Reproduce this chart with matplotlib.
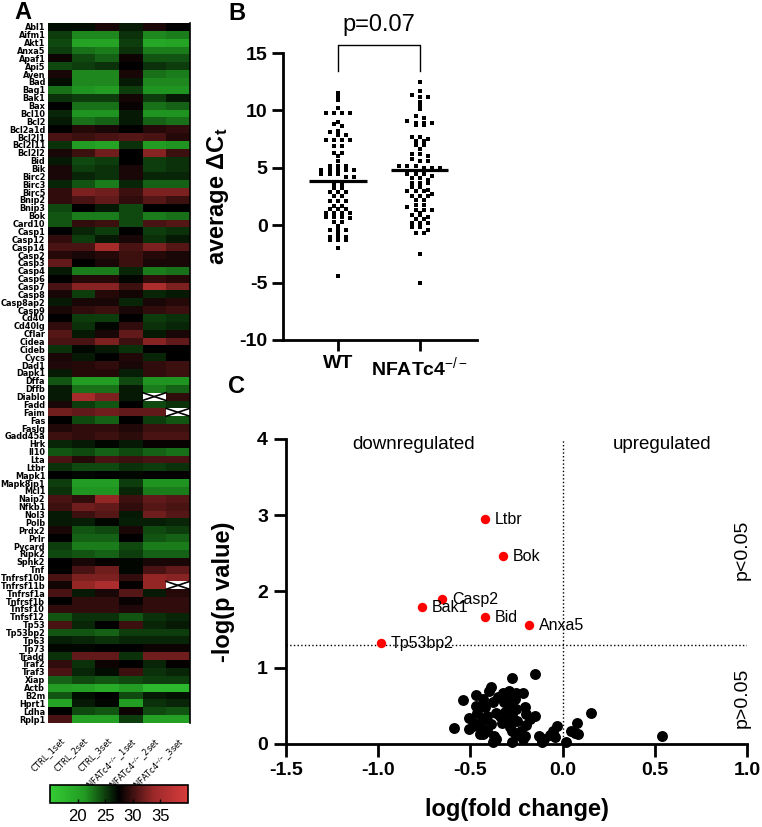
import numpy as np
import matplotlib
matplotlib.use("Agg")
import matplotlib.pyplot as plt
from matplotlib.colors import LinearSegmentedColormap

plt.rcParams['font.family'] = ['Liberation Sans', 'DejaVu Sans']
plt.rcParams['mathtext.fontset'] = 'custom'
plt.rcParams['mathtext.rm'] = 'Liberation Sans'
plt.rcParams['mathtext.it'] = 'Liberation Sans:italic'
plt.rcParams['mathtext.bf'] = 'Liberation Sans:bold'
plt.rcParams['axes.unicode_minus'] = False

# ---------------- A: heatmap (Ct values) ----------------
genes = ['Abl1', 'Aifm1', 'Akt1', 'Anxa5', 'Apaf1', 'Api5', 'Aven', 'Bad', 'Bag1', 'Bak1',
         'Bax', 'Bcl10', 'Bcl2', 'Bcl2a1d', 'Bcl2l1', 'Bcl2l11', 'Bcl2l2', 'Bid', 'Bik', 'Birc2',
         'Birc3', 'Birc5', 'Bnip2', 'Bnip3', 'Bok', 'Card10', 'Casp1', 'Casp12', 'Casp14', 'Casp2',
         'Casp3', 'Casp4', 'Casp6', 'Casp7', 'Casp8', 'Casp8ap2', 'Casp9', 'Cd40', 'Cd40lg', 'Cflar',
         'Cidea', 'Cideb', 'Cycs', 'Dad1', 'Dapk1', 'Dffa', 'Dffb', 'Diablo', 'Fadd', 'Faim',
         'Fas', 'Faslg', 'Gadd45a', 'Hrk', 'Il10', 'Lta', 'Ltbr', 'Mapk1', 'Mapk8ip1', 'Mcl1',
         'Naip2', 'Nfkb1', 'Nol3', 'Polb', 'Prdx2', 'Prlr', 'Pycard', 'Ripk2', 'Sphk2', 'Tnf',
         'Tnfrsf10b', 'Tnfrsf11b', 'Tnfrsf1a', 'Tnfrsf1b', 'Tnfsf10', 'Tnfsf12', 'Tp53', 'Tp53bp2', 'Tp63', 'Tp73',
         'Tradd', 'Traf2', 'Traf3', 'Xiap', 'Actb', 'B2m', 'Hprt1', 'Ldha', 'Rplp1']

samples = ['CTRL_1set', 'CTRL_2set', 'CTRL_3set',
           'NFATc4$^{-/-}$_1set', 'NFATc4$^{-/-}$_2set', 'NFATc4$^{-/-}$_3set']

nan = np.nan
ctrl_1set = [27, 25, 24.5, 25, 28, 24.5, 28.5, 27, 23, 25.5,
             27.5, 26, 26.5, 27.5, 30.5, 25.5, 28.5, 26.5, 28.5, 28.5,
             26, 29.5, 29.5, 24.5, 24, 24, 27.5, 29.5, 30.5, 29,
             31.5, 26.5, 27.5, 30.5, 28.5, 26.5, 28.5, 27.5, 29.5, 31,
             30.5, 25.5, 28.5, 28.8, 26.5, 24, 26.5, 26.5, 28.5, 32,
             27.5, 28.8, 30, 26, 24, 30.5, 25.5, 27.5, 25, 25.5,
             30.5, 30, 26.5, 26.5, 28.5, 27.5, 25, 24.5, 27.5, 27.5,
             30.5, 28.3, 30.5, 27.5, 29.5, 24, 30.5, 24, 26.3, 27.3,
             25.5, 29.5, 30.5, 23.5, 21, 24, 20, 27.5, 30.5]
ctrl_2set = [27, 22, 20, 23, 24.5, 25, 22, 22, 21.5, 25,
             23, 21.5, 23, 29, 30, 21, 30, 24.5, 25, 26,
             24, 32.5, 30.5, 27.5, 22.5, 29.5, 26, 25, 30.5, 28.5,
             27.5, 22.5, 29, 33, 25, 28.5, 29.5, 25, 25.5, 26.5,
             30.5, 27.2, 26.5, 29, 29, 21, 23, 35, 25, 31.5,
             24.5, 29.5, 29.5, 26.5, 24.5, 29, 24.5, 27.3, 21, 21.5,
             29.5, 32, 30, 26.3, 24, 23.5, 22.5, 24, 28.5, 30.5,
             32.5, 33.5, 26.5, 29.5, 29.5, 25.5, 26, 24, 26, 27.3,
             31.5, 25.5, 26, 24.5, 20.5, 27, 26.5, 24.5, 20.5]
ctrl_3set = [28.5, 22, 20, 22.5, 23.5, 25.5, 22, 22, 21, 25,
             23, 21.5, 23.5, 28.5, 30.5, 20, 32, 25, 25.5, 25.5,
             22.5, 32, 31.5, 26.5, 22.5, 30, 25, 26.5, 35, 29,
             28.5, 22.5, 29, 33, 29, 28.5, 30, 25, 27.3, 28.5,
             32.5, 26.5, 27.5, 29.5, 29, 21, 23, 32.5, 24, 32,
             23.5, 29.5, 30, 27.3, 23.5, 30.5, 24.5, 27.5, 21, 21.5,
             33.5, 31.5, 31, 27.3, 24.5, 23.5, 22.5, 23.5, 27.8, 32,
             32.5, 35.5, 28.5, 29.5, 29.5, 25.5, 27.5, 23.5, 25.5, 27.5,
             31.5, 28, 27, 24, 19, 27.5, 27.3, 24, 20.5]
ko_1set = [26.5, 25.5, 25, 25.5, 28, 27.5, 28.5, 26.5, 25, 28.3,
           27.8, 26.5, 26.5, 27.5, 31, 25.5, 27.5, 27.5, 28.5, 28.5,
           26, 30, 29.5, 24.5, 24.5, 24.5, 27.5, 28.5, 30.5, 30,
           30, 26, 27.3, 30, 28.3, 26, 28.5, 27.5, 29.5, 31.5,
           30, 25.5, 28.8, 28.5, 26.3, 24.5, 26.5, 26.5, 27.5, 31.5,
           27.5, 28.8, 29.3, 26.5, 24.5, 30, 25.5, 27.3, 25, 26,
           30, 29.5, 26.5, 26.3, 28.5, 27.5, 24.5, 25, 27.3, 27.3,
           29.5, 27.7, 31, 27.8, 28.8, 24, 30, 25, 26, 27.5,
           25.5, 27.5, 30, 24.5, 21, 24.5, 21, 28, 25]
ko_2set = [28.5, 22, 19.5, 22.5, 24, 25.5, 23, 22, 21.5, 25,
           23, 21.5, 23.5, 29, 30.5, 21, 33, 25, 25, 26,
           23.5, 32.5, 31, 27.5, 22.5, 30.5, 25, 25.5, 32.5, 29,
           28.5, 22.5, 29.5, 35.5, 26, 28.5, 29.5, 25, 25.5, 26.5,
           33, 27.5, 26, 29.5, 29.5, 21.5, 22.5, nan, 24.5, 31.5,
           25, 30, 30.5, 27.8, 23.5, 30.5, 25, 27.7, 21.5, 22.5,
           31.5, 31, 32, 26.3, 24.5, 24, 22.5, 23.5, 28.5, 30.5,
           33.5, 33.5, 26.5, 29.5, 29.5, 25.5, 26, 25, 26, 28,
           32, 26, 25.5, 25, 17.5, 26.5, 25.5, 24.5, 20.5]
ko_3set = [27.5, 22.5, 20, 22.5, 24, 25, 22.5, 22, 21.5, 26.5,
           23.5, 21.5, 23, 29.5, 29, 21.5, 30, 25.5, 25.5, 26,
           23.5, 32.5, 30, 27.5, 23, 31, 25.5, 26.5, 31, 28.5,
           28.5, 23, 29, 32.5, 26.5, 29, 30, 25.5, 26, 28.5,
           31.5, 27.5, 27.5, 30, 30, 21.5, 23.5, 29.5, 25.5, nan,
           24, 30, 30.5, 27.8, 23, 30.5, 25.5, 27.7, 21.5, 22.5,
           31, 30.5, 31, 26, 25, 23.5, 22.5, 23.5, 28.5, 31.5,
           33, nan, 29, 29.5, 29.5, 26, 26.5, 25, 26, 28,
           32, 27.7, 26, 25, 17.5, 26.8, 26, 24, 20.5]

# ---------------- B: average delta Ct ----------------
groups = ['WT', 'NFATc4$^{-/-}$']
wt_dct = [11.5, 11.2, 10.9, 10.2, 9.8, 9.8, 9.8, 9.8, 9.0, 8.8, 8.6, 8.2, 8.1, 7.9, 7.9,
          7.4, 7.4, 7.4, 7.4, 6.9, 6.9, 6.3, 6.3, 6.0, 5.6, 5.2, 5.2, 5.2,
          4.8, 4.8, 4.8, 4.8, 4.8, 4.5, 4.5, 4.5, 4.2, 4.2, 3.5, 3.5, 3.2, 3.2,
          2.85, 2.85, 2.85, 2.5, 2.5, 2.1, 2.1, 2.1, 1.7, 1.7, 1.4, 1.4, 1.4,
          1.05, 1.05, 1.05, 1.05, 0.7, 0.7, 0.7, 0.6, 0.3, 0.3, -0.06,
          -0.4, -0.4, -0.4, -0.7, -1.05, -1.05, -1.05, -1.3, -1.3, -1.3, -2.0, -4.4]
nf_dct = [12.5, 11.7, 11.3, 11.2, 11.2, 10.7, 10.4, 10.1, 9.5, 9.3, 9.1, 8.9, 8.9, 8.9, 8.7, 8.7,
          7.7, 7.7, 7.5, 7.3, 7.3, 6.95, 6.95, 6.6, 6.2, 6.2, 6.0, 5.8, 5.6, 5.6, 5.2, 5.2, 5.2,
          4.95, 4.95, 4.95, 4.5, 4.5, 4.5, 4.3, 4.1, 4.1, 3.9, 3.65, 3.65, 3.65, 3.3, 3.3, 3.1,
          2.95, 2.95, 2.95, 2.7, 2.5, 2.5, 2.5, 2.2, 2.2, 1.8, 1.8, 1.55, 1.35, 1.35, 1.35, 1.1,
          0.9, 0.9, 0.7, 0.5, 0.5, 0.17, 0.17, 0.17, -0.2, -0.2, -0.45, -0.7, -0.7, -2.5, -5.0]
mean_dct = [3.85, 4.8]
p_value_b = 'p=0.07'

# ---------------- C: volcano ----------------
sig_genes = ['Ltbr', 'Bok', 'Casp2', 'Bak1', 'Bid', 'Anxa5', 'Tp53bp2']
fc_sig = [-0.423, -0.322, -0.652, -0.763, -0.423, -0.18, -0.986]
logp_sig = [2.95, 2.46, 1.90, 1.79, 1.66, 1.56, 1.32]

fc_ns = [-0.148, -0.272, -0.386, -0.40, -0.215, -0.293, -0.322, -0.47, -0.54, -0.43,
         -0.35, -0.30, -0.26, -0.38, -0.32, -0.285, -0.42, -0.206, -0.254, -0.31,
         -0.464, -0.36, -0.196, -0.148, 0.153, -0.507, -0.43, -0.293, -0.245, -0.478,
         -0.39, -0.33, -0.196, 0.076, -0.031, -0.588, -0.51, -0.44, -0.41, -0.285,
         -0.225, -0.05, 0.047, 0.066, 0.085, -0.43, -0.37, -0.254, -0.206, -0.128,
         -0.07, 0.538, -0.36, -0.10, -0.38, -0.274, -0.11, 0.017, -0.254, -0.468,
         -0.342, -0.274, -0.41, -0.177, -0.487, -0.274, -0.215, -0.04, -0.448]
logp_ns = [0.92, 0.86, 0.75, 0.69, 0.67, 0.70, 0.67, 0.64, 0.575, 0.59,
           0.61, 0.61, 0.59, 0.545, 0.545, 0.52, 0.49, 0.48, 0.46, 0.42,
           0.405, 0.40, 0.39, 0.37, 0.40, 0.335, 0.33, 0.33, 0.305, 0.28,
           0.26, 0.28, 0.25, 0.275, 0.23, 0.205, 0.196, 0.22, 0.174, 0.22,
           0.174, 0.174, 0.174, 0.15, 0.13, 0.13, 0.11, 0.12, 0.11, 0.11,
           0.12, 0.11, 0.065, 0.065, 0.02, 0.02, 0.02, 0.02, 0.675, 0.50,
           0.37, 0.39, 0.37, 0.33, 0.24, 0.174, 0.065, 0.087, 0.13]
p_cut = 0.05


def swarm_offsets(vals, bin_w=0.36, step=0.1):
    # spread points sharing a row symmetrically around the group centre
    vals = np.asarray(vals)
    bins = np.round(vals / bin_w)
    off = np.zeros(len(vals))
    for b in np.unique(bins):
        idx = np.where(bins == b)[0]
        n = len(idx)
        off[idx] = (np.arange(n) - (n - 1) / 2) * step
    return off


fig = plt.figure(figsize=(7.62, 8.27), dpi=100)

# ===== A =====
ct = np.column_stack([ctrl_1set, ctrl_2set, ctrl_3set, ko_1set, ko_2set, ko_3set])
cmap = LinearSegmentedColormap.from_list(
    'gkr', [(0.0, '#34cc34'), (0.25, '#229a22'), (0.5, '#000000'),
            (0.75, '#9a2828'), (1.0, '#d83c3c')])
cmap.set_bad('white')

ax_a = fig.add_axes([0.063, 0.1258, 0.186, 0.8464])
im = ax_a.imshow(np.ma.masked_invalid(ct), aspect='auto', cmap=cmap, vmin=15, vmax=40,
                 interpolation='nearest')
for r, c in zip(*np.where(np.isnan(ct))):
    ax_a.plot([c - 0.5, c + 0.5], [r - 0.5, r + 0.5], color='black', lw=1.2)
    ax_a.plot([c - 0.5, c + 0.5], [r + 0.5, r - 0.5], color='black', lw=1.2)
ax_a.set_xlim(-0.5, len(samples) - 0.5)
ax_a.set_ylim(len(genes) - 0.5, -0.5)
ax_a.set_yticks(range(len(genes)))
ax_a.set_yticklabels(genes, fontsize=5.9, fontweight='bold', family='DejaVu Sans')
ax_a.set_xticks(range(len(samples)))
ax_a.set_xticklabels(samples, fontsize=6, rotation=45, ha='right', va='top',
                     rotation_mode='anchor', family='DejaVu Sans')
ax_a.tick_params(axis='y', length=0, pad=2)
ax_a.tick_params(axis='x', length=0, pad=9)
for side in ['top', 'left', 'bottom']:
    ax_a.spines[side].set_visible(False)
ax_a.spines['right'].set_linewidth(1.2)

cax = fig.add_axes([0.0656, 0.029, 0.181, 0.0218])
cb = fig.colorbar(im, cax=cax, orientation='horizontal', ticks=[20, 25, 30, 35])
cb.ax.tick_params(labelsize=12, direction='in', length=3, width=1, pad=4)
cb.outline.set_linewidth(1.2)

fig.text(0.03, 0.977, 'A', fontsize=17, fontweight='bold', ha='center', va='baseline')

# ===== B =====
ax_b = fig.add_axes([0.3714, 0.5889, 0.2546, 0.347])
for i, vals in enumerate([wt_dct, nf_dct]):
    ax_b.scatter(i + swarm_offsets(vals), vals, s=5, marker='s', color='black',
                 linewidths=0, zorder=3)
    ax_b.hlines(mean_dct[i], i - 0.35, i + 0.35, color='black', lw=2.3, zorder=4)
ax_b.plot([0, 0, 1, 1], [13.4, 15.7, 15.7, 13.4], color='black', lw=1, clip_on=False)
ax_b.text(0.5, 17.4, p_value_b, fontsize=17, ha='center', va='center')
ax_b.set_xlim(-0.67, 1.7)
ax_b.set_ylim(-10, 15)
ax_b.set_yticks([-10, -5, 0, 5, 10, 15])
ax_b.set_xticks([0, 1])
ax_b.set_xticklabels(groups)
ax_b.set_ylabel('average ΔC$_\\mathregular{t}$', fontsize=17, fontweight='bold', labelpad=6)
for side in ['top', 'right']:
    ax_b.spines[side].set_visible(False)
for side in ['left', 'bottom']:
    ax_b.spines[side].set_linewidth(2)
ax_b.tick_params(width=2, length=8, labelsize=14, pad=3)
for lab in ax_b.get_xticklabels() + ax_b.get_yticklabels():
    lab.set_fontweight('bold')

fig.text(0.311, 0.976, 'B', fontsize=17, fontweight='bold', ha='center', va='baseline')

# ===== C =====
ax_c = fig.add_axes([0.3753, 0.1004, 0.605, 0.3688])
ax_c.axhline(-np.log10(p_cut), color='black', ls=':', lw=1, zorder=1)
ax_c.axvline(0, color='black', ls=':', lw=1, zorder=1)
ax_c.scatter(fc_ns, logp_ns, s=62, color='black', linewidths=0, zorder=3, clip_on=False)
ax_c.scatter(fc_sig, logp_sig, s=46, color='#ff0000', linewidths=0, zorder=3)
for name, x, y in zip(sig_genes, fc_sig, logp_sig):
    ax_c.annotate(name, (x, y), xytext=(7, 0), textcoords='offset points',
                  va='center', ha='left', fontsize=11.5)
ax_c.text(-0.81, 3.93, 'downregulated', fontsize=13.5, ha='center', va='center')
ax_c.text(0.54, 3.93, 'upregulated', fontsize=13.5, ha='center', va='center')
ax_c.text(0.975, 2.54, 'p<0.05', fontsize=14, rotation=90, ha='center', va='center')
ax_c.text(0.975, 0.60, 'p>0.05', fontsize=14, rotation=90, ha='center', va='center')
ax_c.set_xlim(-1.5, 1.0)
ax_c.set_ylim(0, 4)
ax_c.set_xticks([-1.5, -1.0, -0.5, 0.0, 0.5, 1.0])
ax_c.set_yticks([0, 1, 2, 3, 4])
ax_c.set_xlabel('log(fold change)', fontsize=17, fontweight='bold', labelpad=14)
ax_c.set_ylabel('-log(p value)', fontsize=17, fontweight='bold', labelpad=16)
for side in ['top', 'right']:
    ax_c.spines[side].set_visible(False)
for side in ['left', 'bottom']:
    ax_c.spines[side].set_linewidth(2)
ax_c.tick_params(width=2, length=9, labelsize=14, pad=4)
for lab in ax_c.get_xticklabels() + ax_c.get_yticklabels():
    lab.set_fontweight('bold')

fig.text(0.31, 0.525, 'C', fontsize=17, fontweight='bold', ha='center', va='baseline')

fig.savefig('out.png', dpi=100)
